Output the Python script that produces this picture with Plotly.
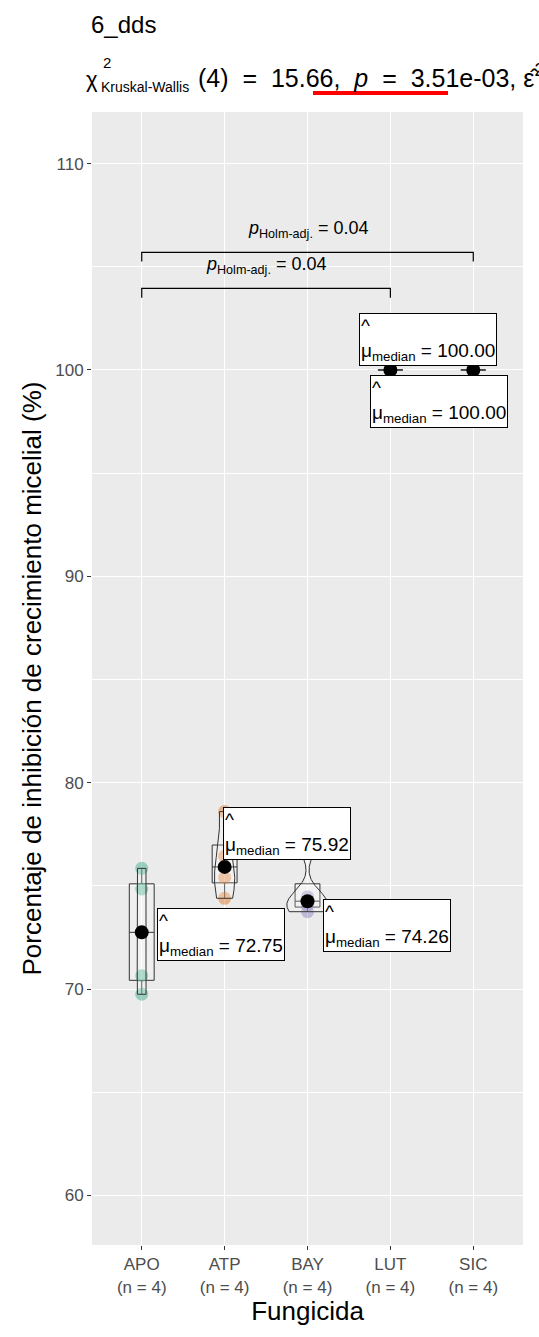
import numpy as np
import plotly.graph_objects as go

# ---- data -------------------------------------------------------------
groups = ["APO", "ATP", "BAY", "LUT", "SIC"]
n_text = ["(n = 4)", "(n = 4)", "(n = 4)", "(n = 4)", "(n = 4)"]
apo = [75.85, 74.85, 70.65, 69.75]
atp = [78.60, 76.44, 75.40, 74.40]
bay = [77.00, 74.47, 74.05, 73.75]
lut = [100.0, 100.0, 100.0, 100.0]
sic = [100.0, 100.0, 100.0, 100.0]
series = [apo, atp, bay, lut, sic]

# pairwise Holm-adjusted comparisons shown as brackets
pair_from = ["APO", "APO"]
pair_to = ["LUT", "SIC"]
pair_p = ["0.04", "0.04"]

# Kruskal-Wallis summary
kw_df = 4
kw_stat = "15.66"
kw_p = "3.51e-03"
kw_eps = "1.00"

title_text = "6_dds"
y_title = "Porcentaje de inhibición de crecimiento micelial (%)"
x_title = "Fungicida"

# ---- styling ----------------------------------------------------------
colors = ["#1B9E77", "#D95F02", "#7570B3", "#E7298A", "#66A61E"]
FONT = "Liberation Sans, Arial, sans-serif"
W, H = 539, 1337
M_L, M_R, M_T, M_B = 92, 16, 112, 92
PW, PH = W - M_L - M_R, H - M_T - M_B
SP = "\u00a0\u00a0"  # wide math-style spacing

VIOLIN_WIDTH = 0.5
BOX_WIDTH = 0.3
bracket_levels = [103.95, 105.7]
bracket_tip = 0.45
# median-label anchor offsets (x, y) in axis units relative to the group
label_offsets = [(0.96, -0.11), (0.75, 1.61), (0.96, -1.18), (0.45, 1.5), (-0.41, -1.55)]


def px_x(p):
    return (p - M_L) / PW


def px_y(p):
    return (H - M_B - p) / PH


def rgba(hex_color, a):
    h = hex_color.lstrip("#")
    r, g, b = int(h[0:2], 16), int(h[2:4], 16), int(h[4:6], 16)
    return f"rgba({r},{g},{b},{a})"


def nrd0(v):
    v = np.asarray(v, float)
    sd = v.std(ddof=1)
    iqr = np.subtract(*np.percentile(v, [75, 25]))
    lo = min(sd, iqr / 1.34)
    return 0.9 * lo * len(v) ** -0.2


def kde(v, grid, bw):
    v = np.asarray(v, float)[:, None]
    z = (grid[None, :] - v) / bw
    return np.exp(-0.5 * z ** 2).sum(axis=0) / (len(v) * bw * np.sqrt(2 * np.pi))


xpos = list(range(1, len(groups) + 1))
medians = [float(np.median(s)) for s in series]
q1 = [float(np.percentile(s, 25)) for s in series]
q3 = [float(np.percentile(s, 75)) for s in series]
lowf, upf = [], []
for s, a, b in zip(series, q1, q3):
    iqr = b - a
    arr = np.asarray(s)
    lowf.append(float(arr[arr >= a - 1.5 * iqr].min()))
    upf.append(float(arr[arr <= b + 1.5 * iqr].max()))

# trimmed densities, scaled by area across all groups
dens = {}
for i, s in enumerate(series):
    if np.std(s) == 0:
        continue
    grid = np.linspace(min(s), max(s), 512)
    dens[i] = (grid, kde(s, grid, nrd0(s)))
dmax = max(d.max() for _, d in dens.values())

fig = go.Figure()

# boxplots
fig.add_trace(go.Box(
    x=xpos, q1=q1, median=medians, q3=q3, lowerfence=lowf, upperfence=upf,
    width=BOX_WIDTH, whiskerwidth=0, boxpoints=False,
    fillcolor="rgba(255,255,255,0.2)", line=dict(color="#333333", width=1),
    showlegend=False, hoverinfo="skip"))

# jittered raw observations
for i, (s, c) in enumerate(zip(series, colors)):
    fig.add_trace(go.Scatter(
        x=[xpos[i]] * len(s), y=s, mode="markers",
        marker=dict(color=rgba(c, 0.4), size=13, line=dict(width=0)),
        showlegend=False, hoverinfo="skip"))

# violins
for i, (grid, d) in dens.items():
    hw = d / dmax * VIOLIN_WIDTH / 2
    fig.add_trace(go.Scatter(
        x=np.concatenate([xpos[i] - hw, (xpos[i] + hw)[::-1], [xpos[i] - hw[0]]]),
        y=np.concatenate([grid, grid[::-1], [grid[0]]]),
        mode="lines", fill="toself", fillcolor="rgba(255,255,255,0.2)",
        line=dict(color="#333333", width=1),
        showlegend=False, hoverinfo="skip"))

# medians
fig.add_trace(go.Scatter(
    x=xpos, y=medians, mode="markers",
    marker=dict(color="black", size=14, line=dict(width=0)),
    showlegend=False, hoverinfo="skip"))

# significance brackets
for a, b, p, lev in zip(pair_from, pair_to, pair_p, bracket_levels):
    xa, xb = groups.index(a) + 1, groups.index(b) + 1
    fig.add_trace(go.Scatter(
        x=[xa, xa, xb, xb], y=[lev - bracket_tip, lev, lev, lev - bracket_tip],
        mode="lines", line=dict(color="black", width=1.2),
        showlegend=False, hoverinfo="skip"))
    fig.add_annotation(
        x=(xa + xb) / 2, y=lev + 1.12, xref="x", yref="y", showarrow=False,
        text=f"<i>p</i><sub>Holm-adj.</sub> = {p}",
        font=dict(family=FONT, size=18, color="black"))

# median labels
for i, (m, (dx, dy)) in enumerate(zip(medians, label_offsets)):
    fig.add_annotation(
        x=xpos[i] + dx, y=m + dy, xref="x", yref="y", showarrow=False,
        text=f"^<br>μ<sub>median</sub>\u00a0=\u00a0{m:.2f}", align="left",
        font=dict(family=FONT, size=19, color="black"),
        bgcolor="white", bordercolor="black", borderwidth=1, borderpad=1)

# title and subtitle
fig.add_annotation(x=px_x(89), y=px_y(25), xref="paper", yref="paper",
                   xanchor="left", yanchor="middle", showarrow=False,
                   text=title_text, font=dict(family=FONT, size=24, color="black"))
fig.add_annotation(x=px_x(84), y=px_y(80), xref="paper", yref="paper",
                   xanchor="left", yanchor="middle", showarrow=False,
                   text="χ", font=dict(family=FONT, size=22, color="black"))
fig.add_annotation(x=px_x(101), y=px_y(63), xref="paper", yref="paper",
                   xanchor="left", yanchor="middle", showarrow=False,
                   text="2", font=dict(family=FONT, size=15, color="black"))
fig.add_annotation(x=px_x(99), y=px_y(87), xref="paper", yref="paper",
                   xanchor="left", yanchor="middle", showarrow=False,
                   text="Kruskal-Wallis", font=dict(family=FONT, size=14, color="black"))
fig.add_annotation(x=px_x(196), y=px_y(78), xref="paper", yref="paper",
                   xanchor="left", yanchor="middle", showarrow=False,
                   text=(f"({kw_df}){SP}={SP}{kw_stat},{SP}<i>p</i>{SP}={SP}{kw_p},\u00a0"
                         f"ε̂<sup>2</sup><sub>ordinal</sub>{SP}={SP}{kw_eps}"),
                   font=dict(family=FONT, size=25, color="black"))
fig.add_shape(type="line", xref="paper", yref="paper",
              x0=px_x(313), x1=px_x(448), y0=px_y(93), y1=px_y(93),
              line=dict(color="red", width=4))

fig.update_layout(
    width=W, height=H, autosize=False,
    margin=dict(l=M_L, r=M_R, t=M_T, b=M_B),
    paper_bgcolor="white", plot_bgcolor="#EBEBEB",
    boxmode="overlay",
    font=dict(family=FONT),
)
fig.update_xaxes(
    range=[0.4, 5.6], tickmode="array", tickvals=xpos,
    ticktext=[f"{g}<br>{n}" for g, n in zip(groups, n_text)],
    tickfont=dict(family=FONT, size=17, color="#4D4D4D"),
    ticks="outside", ticklen=4, tickcolor="#333333", tickwidth=1,
    showgrid=True, gridcolor="white", gridwidth=1.2, zeroline=False,
    showline=False, automargin=False,
    title=dict(text=x_title, font=dict(family=FONT, size=26, color="black"), standoff=2),
)
fig.update_yaxes(
    range=[57.6, 112.5], tickmode="array", tickvals=[60, 70, 80, 90, 100, 110],
    tickfont=dict(family=FONT, size=17, color="#4D4D4D"),
    ticks="outside", ticklen=4, tickcolor="#333333", tickwidth=1,
    showgrid=True, gridcolor="white", gridwidth=1.2, zeroline=False,
    showline=False, automargin=False,
    minor=dict(tickvals=[65, 75, 85, 95, 105], showgrid=True, gridcolor="white",
               gridwidth=0.6, ticks=""),
    title=dict(text=y_title, font=dict(family=FONT, size=26, color="black"), standoff=6),
)

fig.write_html("out.html")
